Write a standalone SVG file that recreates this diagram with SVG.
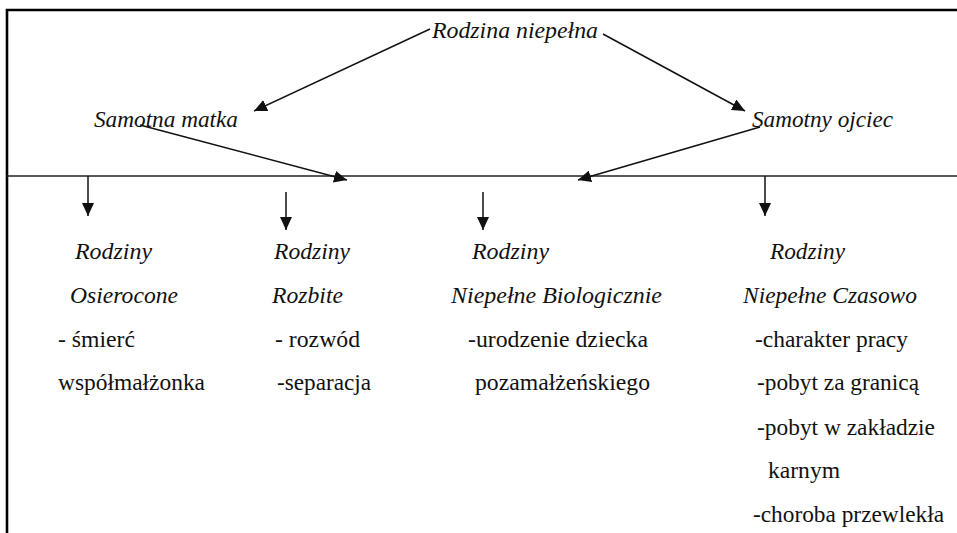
<svg xmlns="http://www.w3.org/2000/svg" width="957" height="533" viewBox="0 0 957 533">
<style>
.t{font-family:'Liberation Serif','Times New Roman',serif;font-size:24px;fill:#111;}
.i{font-style:italic;}
.frame{stroke:#000;stroke-width:2.6;fill:none;}
.bar{stroke:#222;stroke-width:1.6;fill:none;}
.c{stroke:#111;stroke-width:1.5;fill:none;marker-end:url(#ah);}
</style>
<defs>
<marker id="ah" markerUnits="userSpaceOnUse" markerWidth="14" markerHeight="12" viewBox="0 0 14 12" refX="13" refY="6" orient="auto">
<path d="M0,0 L13,6 L0,12 z" fill="#111"/>
</marker>
</defs>
<rect width="957" height="533" fill="#fff"/>
<g id="frame">
<path class="frame" d="M7,533 V10 H957"/>
<path class="bar" d="M7,176 H957"/>
</g>
<g id="connectors">
<path class="c" d="M430,29 L254,111"/>
<path class="c" d="M603,34 L745,111"/>
<path class="c" d="M140,125 L347,180"/>
<path class="c" d="M760,127 L578,180"/>
<path class="c" d="M88,176 V216"/>
<path class="c" d="M286,192 V230"/>
<path class="c" d="M483,192 V230"/>
<path class="c" d="M765,176 V216"/>
</g>
<g class="t" font-family="Liberation Serif, Times New Roman, serif" font-size="24">
<g id="root"><text class="i" x="432" y="38" textLength="166" lengthAdjust="spacingAndGlyphs">Rodzina niepełna</text></g>
<g id="samotna-matka"><text class="i" x="94" y="127" textLength="144" lengthAdjust="spacingAndGlyphs">Samotna matka</text></g>
<g id="samotny-ojciec"><text class="i" x="752" y="127" textLength="141" lengthAdjust="spacingAndGlyphs">Samotny ojciec</text></g>
<g id="osierocone">
<text class="i" x="75" y="259" textLength="77" lengthAdjust="spacingAndGlyphs">Rodziny</text>
<text class="i" x="70" y="303" textLength="108" lengthAdjust="spacingAndGlyphs">Osierocone</text>
<text x="58" y="347" textLength="77" lengthAdjust="spacingAndGlyphs">- śmierć</text>
<text x="58" y="390" textLength="147" lengthAdjust="spacingAndGlyphs">współmałżonka</text>
</g>
<g id="rozbite">
<text class="i" x="274" y="259" textLength="76" lengthAdjust="spacingAndGlyphs">Rodziny</text>
<text class="i" x="272" y="303" textLength="71" lengthAdjust="spacingAndGlyphs">Rozbite</text>
<text x="275" y="347" textLength="85" lengthAdjust="spacingAndGlyphs">- rozwód</text>
<text x="277" y="390" textLength="94" lengthAdjust="spacingAndGlyphs">-separacja</text>
</g>
<g id="biologicznie">
<text class="i" x="472" y="259" textLength="77" lengthAdjust="spacingAndGlyphs">Rodziny</text>
<text class="i" x="451" y="303" textLength="211" lengthAdjust="spacingAndGlyphs">Niepełne Biologicznie</text>
<text x="468" y="347" textLength="180" lengthAdjust="spacingAndGlyphs">-urodzenie dziecka</text>
<text x="475" y="390" textLength="175" lengthAdjust="spacingAndGlyphs">pozamałżeńskiego</text>
</g>
<g id="czasowo">
<text class="i" x="770" y="259" textLength="75" lengthAdjust="spacingAndGlyphs">Rodziny</text>
<text class="i" x="743" y="303" textLength="174" lengthAdjust="spacingAndGlyphs">Niepełne Czasowo</text>
<text x="755" y="347" textLength="153" lengthAdjust="spacingAndGlyphs">-charakter pracy</text>
<text x="757" y="390" textLength="162" lengthAdjust="spacingAndGlyphs">-pobyt za granicą</text>
<text x="757" y="435" textLength="178" lengthAdjust="spacingAndGlyphs">-pobyt w zakładzie</text>
<text x="768" y="478" textLength="72" lengthAdjust="spacingAndGlyphs">karnym</text>
<text x="753" y="522" textLength="191" lengthAdjust="spacingAndGlyphs">-choroba przewlekła</text>
</g>
</g>
</svg>
